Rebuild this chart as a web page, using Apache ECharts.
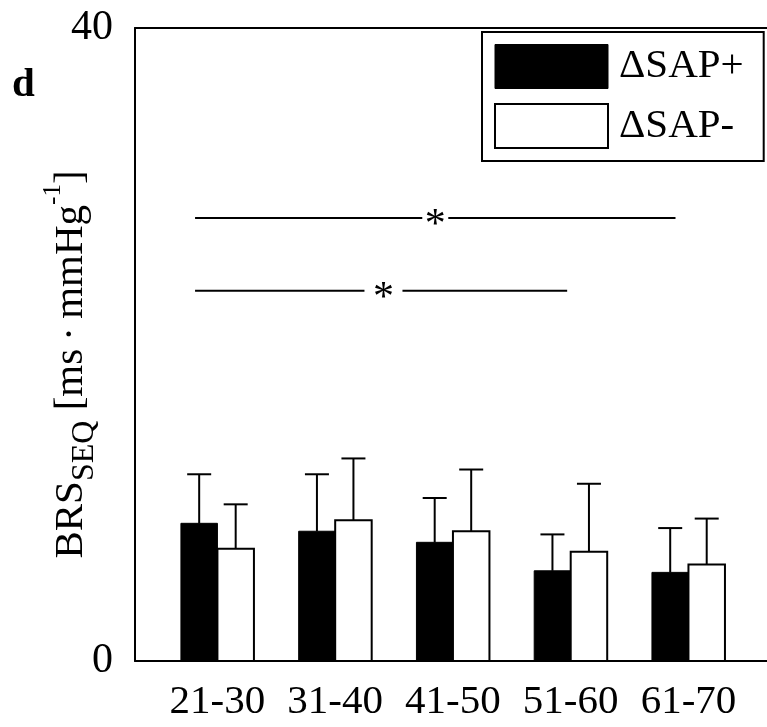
<!DOCTYPE html>
<html>
<head>
<meta charset="utf-8">
<style>
  html, body { margin: 0; padding: 0; background: #fff; }
  #chart { width: 767px; height: 727px; }
</style>
<script src="https://cdn.jsdelivr.net/npm/echarts@6/dist/echarts.min.js"></script>
</head>
<body>
<div id="chart"></div>
<script>
// Age groups (years)
const categories = ['21-30', '31-40', '41-50', '51-60', '61-70'];

// BRS (sequence method) for rising SAP ramps: mean and SD
const sapPlusMean = [8.7, 8.2, 7.5, 5.7, 5.6];
const sapPlusSd   = [3.1, 3.6, 2.8, 2.3, 2.8];

// BRS (sequence method) for falling SAP ramps: mean and SD
const sapMinusMean = [7.1, 8.9, 8.2, 6.9, 6.1];
const sapMinusSd   = [2.8, 3.9, 3.9, 4.3, 2.9];

// Y axis tick labels
const yTicks = [0, 40];

// Significance brackets: level, start/end along the category axis, star position
const sigLevel = [28, 23.4];
const sigStart = [-0.19, -0.19];
const sigEnd   = [3.89, 2.97];
const sigStar  = [1.85, 1.41];

const FONT = "'Liberation Serif', 'Times New Roman', serif";
const BAR_W = 0.31;       // bar width in category units
const CAP_HALF = 12;      // error-bar cap half width, px
const SIG_GAP = [13, 19]; // half gap around the asterisk, px

function barSeries(name, means, sds, side, fill) {
  return {
    name: name,
    type: 'custom',
    itemStyle: { color: fill, borderColor: '#000', borderWidth: 2 },
    data: means.map((m, i) => [i, m, sds[i]]),
    renderItem: function (params, api) {
      const i = api.value(0), m = api.value(1), sd = api.value(2);
      const left = side < 0 ? i - BAR_W : i;
      const right = side < 0 ? i : i + BAR_W;
      const p0 = api.coord([left, 0]);
      const p1 = api.coord([right, m]);
      const c = i + side * BAR_W / 2;
      const base = api.coord([c, m]);
      const top = api.coord([c, m + sd]);
      return {
        type: 'group',
        children: [
          {
            type: 'line',
            shape: { x1: base[0], y1: base[1], x2: top[0], y2: top[1] },
            style: { stroke: '#000', lineWidth: 2 }
          },
          {
            type: 'line',
            shape: { x1: top[0] - CAP_HALF, y1: top[1], x2: top[0] + CAP_HALF, y2: top[1] },
            style: { stroke: '#000', lineWidth: 2 }
          },
          {
            type: 'rect',
            shape: { x: p0[0], y: p1[1], width: p1[0] - p0[0], height: p0[1] - p1[1] },
            style: side < 0
              ? { fill: '#000', stroke: '#000', lineWidth: 1 }
              : { fill: '#fff', stroke: '#000', lineWidth: 2 }
          }
        ]
      };
    }
  };
}

const chart = echarts.init(document.getElementById('chart'), null, { renderer: 'canvas' });

chart.setOption({
  animation: false,
  backgroundColor: '#fff',
  title: {
    text: 'd',
    left: 12,
    top: 65,
    padding: 0,
    textStyle: { fontFamily: FONT, fontSize: 41, fontWeight: 'bold', color: '#000' }
  },
  legend: {
    orient: 'vertical',
    left: 482,
    top: 32,
    padding: [12, 20, 12, 12],
    itemGap: 14,
    itemWidth: 113,
    itemHeight: 44,
    icon: 'rect',
    borderColor: '#000',
    borderWidth: 2,
    textStyle: { fontFamily: FONT, fontSize: 41, color: '#000', padding: [0, 0, 0, 6] },
    data: [
      { name: '\u0394SAP+', itemStyle: { color: '#000', borderColor: '#000', borderWidth: 1 } },
      { name: '\u0394SAP-', itemStyle: { color: '#fff', borderColor: '#000', borderWidth: 2 } }
    ]
  },
  grid: { left: 135, right: 0, top: 28, bottom: 66, containLabel: false, outerBoundsMode: 'none' },
  xAxis: [
    {
      type: 'value',
      min: -0.70,
      max: 4.667,
      splitLine: { show: false },
      axisLine: { show: true, onZero: false, lineStyle: { color: '#000', width: 2 } },
      axisTick: { show: false },
      axisLabel: {
        customValues: categories.map((c, i) => i),
        formatter: v => categories[Math.round(v)],
        fontFamily: FONT,
        fontSize: 41,
        color: '#000',
        margin: 21
      }
    },
    {
      type: 'value',
      position: 'top',
      min: -0.70,
      max: 4.667,
      splitLine: { show: false },
      axisLine: { show: true, onZero: false, lineStyle: { color: '#000', width: 2 } },
      axisTick: { show: false },
      axisLabel: { show: false }
    }
  ],
  yAxis: {
    type: 'value',
    min: yTicks[0],
    max: yTicks[1],
    interval: yTicks[1] - yTicks[0],
    splitLine: { show: false },
    axisLine: { show: true, onZero: false, lineStyle: { color: '#000', width: 2 } },
    axisTick: { show: false },
    axisLabel: { fontFamily: FONT, fontSize: 42, color: '#000', margin: 22 },
    name: '{m|BRS}{sub|SEQ}{m| [ms\u2009\u00b7\u2009mmHg}{sup|-1}{m|]}',
    nameLocation: 'middle',
    nameRotate: 90,
    nameGap: 34,
    nameMoveOverlap: false,
    nameTextStyle: {
      fontFamily: FONT,
      color: '#000',
      padding: [0, 40, 0, 0],
      rich: {
        m: { fontFamily: FONT, fontSize: 41, lineHeight: 60, color: '#000' },
        sub: { fontFamily: FONT, fontSize: 32, lineHeight: 38, verticalAlign: 'bottom', color: '#000' },
        sup: { fontFamily: FONT, fontSize: 25, lineHeight: 26, verticalAlign: 'top', color: '#000' }
      }
    }
  },
  series: [
    barSeries('\u0394SAP+', sapPlusMean, sapPlusSd, -1, '#000'),
    barSeries('\u0394SAP-', sapMinusMean, sapMinusSd, 1, '#fff'),
    {
      name: 'significance',
      type: 'custom',
      silent: true,
      data: sigLevel.map((lv, k) => [sigStart[k], sigEnd[k], lv, sigStar[k], k]),
      renderItem: function (params, api) {
        const a = api.coord([api.value(0), api.value(2)]);
        const b = api.coord([api.value(1), api.value(2)]);
        const s = api.coord([api.value(3), api.value(2)]);
        const gap = SIG_GAP[api.value(4)];
        return {
          type: 'group',
          children: [
            { type: 'line', shape: { x1: a[0], y1: a[1], x2: s[0] - gap, y2: a[1] },
              style: { stroke: '#000', lineWidth: 2 } },
            { type: 'line', shape: { x1: s[0] + gap, y1: a[1], x2: b[0], y2: a[1] },
              style: { stroke: '#000', lineWidth: 2 } },
            { type: 'text', x: s[0], y: s[1] + 8,
              style: { text: '*', fontFamily: FONT, fontSize: 42, fill: '#000',
                       align: 'center', verticalAlign: 'middle' } }
          ]
        };
      }
    }
  ]
});
</script>
</body>
</html>
